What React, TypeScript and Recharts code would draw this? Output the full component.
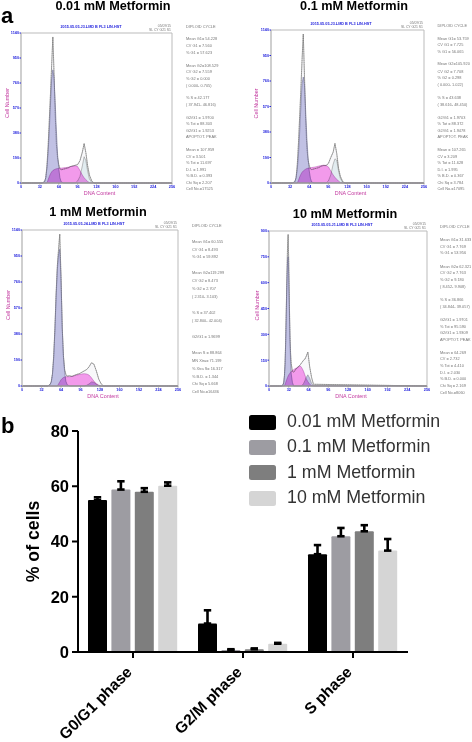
import React from "react";
import {
  Area, Bar, BarChart, ComposedChart, ErrorBar, Legend, Line, ReferenceLine, XAxis, YAxis,
} from "recharts";

const FONT = "'Liberation Sans', Arial, sans-serif";

// ---------- Panel a: DNA histograms ----------
const xTicks = [0, 32, 64, 96, 128, 160, 192, 224, 256];
const yTicksHigh = [0, 190, 380, 570, 760, 950, 1140];
const yTicksLow = [0, 150, 300, 450, 600, 750, 900];

const channels1 = [0,36,40,42,44,46,48,50,52,54,56,58,60,62,64,66,68,72,76,80,84,88,92,96,100,104,107,110,113,116,120,124,256];
const total1 = [0,0,10,40,130,280,480,680,900,1110,840,520,290,190,140,110,100,105,110,115,125,130,135,140,170,235,300,230,130,60,15,0,0];
const g1Fit1 = [0,0,10,40,110,230,400,600,790,860,800,610,400,220,110,40,10,0,0,0,0,0,0,0,0,0,0,0,0,0,0,0,0];
const sFit1 = [0,0,0,0,0,25,50,70,85,95,100,105,108,110,111,112,113,115,117,120,125,128,131,125,95,60,40,25,12,3,0,0,0];
const g2Fit1 = [0,0,0,0,0,0,0,0,0,0,0,0,0,0,0,0,0,0,0,0,0,0,0,15,50,130,200,170,90,30,5,0,0];

const channels2 = channels1;
const total2 = [0,0,10,40,140,300,500,700,920,1110,800,470,260,170,130,105,100,105,110,115,125,130,130,145,190,230,295,220,110,50,10,0,0];
const g1Fit2 = [0,0,10,40,100,210,380,570,740,790,730,540,340,190,90,35,8,0,0,0,0,0,0,0,0,0,0,0,0,0,0,0,0];
const sFit2 = [0,0,0,0,0,20,45,65,80,90,97,103,108,110,111,113,115,118,122,126,130,133,131,120,90,60,42,28,14,4,0,0,0];
const g2Fit2 = [0,0,0,0,0,0,0,0,0,0,0,0,0,0,0,0,0,0,0,0,0,0,0,15,60,140,180,170,90,35,5,0,0];

const channels3 = [0,42,46,48,50,52,54,56,58,60,62,64,66,68,70,72,74,78,82,86,90,94,98,102,106,110,114,118,122,126,130,134,256];
const total3 = [0,0,10,30,90,220,420,680,880,1000,1110,800,430,220,120,85,72,75,70,78,85,90,100,110,120,140,170,160,110,50,15,0,0];
const g1Fit3 = [0,0,10,30,85,200,400,650,850,960,1000,780,420,210,100,35,10,0,0,0,0,0,0,0,0,0,0,0,0,0,0,0,0];
const sFit3 = [0,0,0,0,0,0,0,0,0,15,30,45,55,62,66,68,68,68,70,75,80,84,88,90,88,80,60,35,18,6,0,0,0];
const g2Fit3 = [0,0,0,0,0,0,0,0,0,0,0,0,0,0,0,0,0,0,0,0,0,0,0,0,5,15,30,28,12,3,0,0,0];

const channels4 = [0,20,23,24,25,26,27,28,29,30,31,32,33,34,35,36,38,40,42,44,46,48,50,52,54,56,58,60,63,66,69,72,256];
const total4 = [0,0,8,25,60,130,260,440,640,800,880,720,480,290,190,130,85,80,90,100,105,115,120,130,140,150,155,170,197,110,50,10,0];
const g1Fit4 = [0,0,8,22,55,120,240,420,600,720,750,640,440,260,140,70,20,0,0,0,0,0,0,0,0,0,0,0,0,0,0,0,0];
const sFit4 = [0,0,0,0,0,10,20,30,40,50,58,65,70,75,80,85,90,95,100,104,108,112,116,112,100,85,65,45,25,10,2,0,0];
const g2Fit4 = [0,0,0,0,0,0,0,0,0,0,0,0,0,0,0,0,0,0,0,0,0,0,0,0,5,15,30,48,65,45,15,2,0];

const titles = ["0.01 mM Metformin", "0.1 mM Metformin", "1 mM Metformin", "10 mM Metformin"];
const files = ["2015.05.05.J3.LMD B FL3 LIN.HST", "2015.05.05.J3.LMD B FL3 LIN.HST", "2015.05.05.J4.LMD B FL3 LIN.HST", "2015.05.05.J1.LMD B FL3 LIN.HST"];

const stats1 = ["DIPLOID CYCLE","Mean G1= 54.228","CV G1 = 7.560","% G1 = 57.623","Mean G2=108.529","CV G2 = 7.559","% G2 = 0.000","( 0.000- 0.705)","% S = 42.177","( 37.941- 46.816)","G2/G1 = 1.9700","% Tot = 88.303","G2/G1 = 1.9253","APOPTOT. PEAK","Mean = 107.959","CV = 3.501","% Tot = 11.697","D.I. = 1.991","% B.D. = 0.393","Chi Sq = 2.207","Cell No.=17525"];
const stats2 = ["DIPLOID CYCLE","Mean G1= 53.759","CV G1 = 7.725","% G1 = 56.065","Mean G2=105.920","CV G2 = 7.708","% G2 = 0.298","( 0.000- 1.022)","% S = 43.638","( 38.616- 48.450)","G2/G1 = 1.9703","% Tot = 88.372","G2/G1 = 1.9478","APOPTOT. PEAK","Mean = 107.265","CV = 3.209","% Tot = 11.628","D.I. = 1.995","% B.D. = 0.367","Chi Sq = 3.784","Cell No.=17095"];
const stats3 = ["DIPLOID CYCLE","Mean G1= 60.555","CV G1 = 8.493","% G1 = 59.892","Mean G2=119.299","CV G2 = 8.473","% G2 = 2.707","( 2.310- 3.103)","% S = 37.402","( 32.800- 42.004)","G2/G1 = 1.9699","Mean S = 88.864","MN Xtra= 71.199","% Xtra S= 16.317","% B.D. = 1.344","Chi Sq = 5.668","Cell No.=16436"];
const stats4 = ["DIPLOID CYCLE","Mean G1= 31.633","CV G1 = 7.769","% G1 = 53.956","Mean G2= 62.321","CV G2 = 7.763","% G2 = 9.180","( 8.452- 9.908)","% S = 36.866","( 34.844- 39.057)","G2/G1 = 1.9701","% Tot = 95.590","G2/G1 = 1.9309","APOPTOT. PEAK","Mean = 64.269","CV = 2.732","% Tot = 4.410","D.I. = 2.030","% B.D. = 0.000","Chi Sq = 2.169","Cell No.=8060"];

const statRows1 = [27,39.3,46,53,66,72,79,85.7,98,105,118,124,131,137,150,157,163,170,176,183,189];
const statRows2 = [25.7,38.7,45,51.7,64.3,72,78,85,98,104.7,117.7,124,130.7,137,150,156.7,163,170,176,183,189];
const statRows3 = [226,241.7,249.7,257.3,273.3,281.3,289,297.3,313.3,321,337,352.7,360.7,368.7,376.7,384.3,392.3];
const statRows4 = [227.3,240,246.7,253.3,266.7,273.3,280,286.7,300,306.7,320,326.7,333.3,340,353,359.3,366,372.7,379.3,385.5,392.7];

type PanelCfg = {
  channels: number[]; total: number[]; g1: number[]; s: number[]; g2: number[];
  yTicks: number[]; left: number; top: number; w: number; h: number;
  titleX: number; titleY: number; statX: number; stats: string[]; rows: number[]; g2Fill: string; headX: number; labelOffset: number; labelDy: number;
};

const panels: PanelCfg[] = [
  { channels: channels1, total: total1, g1: g1Fit1, s: sFit1, g2: g2Fit1, yTicks: yTicksHigh, left: 21, top: 33, w: 151, h: 150, titleX: 113, titleY: 6, statX: 186, stats: stats1, rows: statRows1, g2Fill: "#d3e5ea", headX: 91, labelOffset: 6, labelDy: -5 },
  { channels: channels2, total: total2, g1: g1Fit2, s: sFit2, g2: g2Fit2, yTicks: yTicksHigh, left: 271, top: 30, w: 153, h: 153, titleX: 354, titleY: 6, statX: 437.5, stats: stats2, rows: statRows2, g2Fill: "#d3e5ea", headX: 341, labelOffset: 5, labelDy: -3 },
  { channels: channels3, total: total3, g1: g1Fit3, s: sFit3, g2: g2Fit3, yTicks: yTicksHigh, left: 22, top: 230, w: 156, h: 156, titleX: 98, titleY: 212, statX: 192, stats: stats3, rows: statRows3, g2Fill: "#9c9cd6", headX: 94, labelOffset: 6, labelDy: -3 },
  { channels: channels4, total: total4, g1: g1Fit4, s: sFit4, g2: g2Fit4, yTicks: yTicksLow, left: 269, top: 231, w: 158, h: 155, titleX: 345, titleY: 214, statX: 440, stats: stats4, rows: statRows4, g2Fill: "#9c9cd6", headX: 342, labelOffset: 8, labelDy: -3 },
];

const abs = (x: number, y: number, extra: React.CSSProperties = {}): React.CSSProperties => ({
  position: "absolute", left: x, top: y, lineHeight: 1, whiteSpace: "pre", fontFamily: FONT, ...extra,
});

function Panel({ cfg, index }: { cfg: PanelCfg; index: number }) {
  const data = cfg.channels.map((c, i) => ({ c, total: cfg.total[i], g1: cfg.g1[i], s: cfg.s[i], g2: cfg.g2[i] }));
  const yMax = cfg.yTicks[cfg.yTicks.length - 1];
  const tick = { fontSize: 3.8, fill: "#2222dd", fontWeight: 700, fontFamily: FONT };
  return (
    <>
      <div style={{ position: "absolute", left: cfg.left - 20, top: cfg.top - 4 }}>
        <ComposedChart width={cfg.w + 26} height={cfg.h + 18} data={data} margin={{ top: 4, right: 6, bottom: 0, left: 0 }}>
          <XAxis dataKey="c" type="number" domain={[0, 256]} ticks={xTicks} interval={0} height={14}
            tick={tick} tickSize={1.5} tickMargin={0.5} stroke="#999" axisLine={{ stroke: "#999", strokeWidth: 1.4 }}
            label={{ value: "DNA Content", position: "insideBottom", offset: 2.5, dx: 3, fontSize: 5.4, fill: "#c2389f", fontFamily: FONT }} />
          <YAxis type="number" domain={[0, yMax]} ticks={cfg.yTicks} interval={0} width={20}
            tick={tick} tickSize={1.5} tickMargin={0.5} stroke="#2222dd" axisLine={{ stroke: "#bbb", strokeWidth: 1.4 }}
            label={{ value: "Cell Number", angle: -90, position: "insideLeft", offset: cfg.labelOffset, dy: cfg.labelDy, textAnchor: "middle", fontSize: 5.4, fill: "#c2389f", fontFamily: FONT }} />
          <ReferenceLine y={yMax} stroke="#bbb" strokeWidth={1} />
          <ReferenceLine x={256} stroke="#bbb" strokeWidth={1} />
          <Area dataKey="total" type="linear" fill="#f4f4f6" stroke="#8a8a8a" strokeWidth={0.7} isAnimationActive={false} dot={false} />
          <Area dataKey="g2" type="linear" fill={cfg.g2Fill} stroke="#666" strokeWidth={0.4} isAnimationActive={false} dot={false} />
          <Area dataKey="g1" type="linear" fill="#9c9cd6" stroke="#5f5f8a" strokeWidth={0.5} isAnimationActive={false} dot={false} />
          <Area className="s-area" dataKey="s" type="linear" fill="#f55ee6" stroke="#a040a0" strokeWidth={0.4} isAnimationActive={false} dot={false} />
          <Line dataKey="total" type="linear" stroke="#666" strokeWidth={0.4} strokeDasharray="1.2 1" dot={false} isAnimationActive={false} legendType="none" />
        </ComposedChart>
      </div>
      <div style={abs(cfg.titleX, cfg.titleY, { transform: "translate(-50%,-50%)", fontSize: 12.7, fontWeight: 700, color: "#000" })}>{titles[index]}</div>
      <div style={abs(cfg.headX, cfg.top - 5.5, { transform: "translate(-50%,-50%)", fontSize: 3.8, fontWeight: 700, color: "#2222dd" })}>{files[index]}</div>
      <div style={abs(cfg.left + cfg.w - 1, cfg.top - 6, { transform: "translate(-100%,-50%)", fontSize: 3.4, color: "#777" })}>05/09/15</div>
      <div style={abs(cfg.left + cfg.w - 1, cfg.top - 2, { transform: "translate(-100%,-50%)", fontSize: 3.4, color: "#777" })}>SL CY G21 S1</div>
      {cfg.stats.map((t, i) => (
        <div key={i} style={abs(cfg.statX, cfg.rows[i], { transform: "translateY(-50%)", fontSize: 3.9, color: "#777" })}>{t}</div>
      ))}
    </>
  );
}

// ---------- Panel b: bar chart ----------
const phases = ["G0/G1 phase", "G2/M phase", "S phase"];
const doses = ["0.01 mM Metformin", "0.1 mM Metformin", "1 mM Metformin", "10 mM Metformin"];
const doseColors = ["#000000", "#9d9ca2", "#7e7e7e", "#d5d5d5"];
const values001 = [55, 10.3, 35.4];
const values01 = [58.8, 0.7, 41.9];
const values1 = [58, 1.0, 43.7];
const values10 = [60.2, 3.0, 36.7];
const err001 = [1, 4.8, 3.3];
const err01 = [3, 0.3, 3];
const err1 = [1.3, 0.3, 2.2];
const err10 = [1.2, 0.3, 4.2];

const barData = phases.map((phase, i) => ({
  phase,
  a: values001[i], b: values01[i], c: values1[i], d: values10[i],
  ea: [0, err001[i]], eb: [0, err01[i]], ec: [0, err1[i]], ed: [0, err10[i]],
}));

const keys = ["a", "b", "c", "d"];
const errKeys = ["ea", "eb", "ec", "ed"];

function DoseLegend({ payload }: any) {
  return (
    <div style={{ width: 220 }}>
      {(payload || []).map((p: any, i: number) => (
        <div key={i} style={{ position: "relative", height: 25.4 }}>
          <div style={{ position: "absolute", left: 0, top: 5, width: 27, height: 15, borderRadius: 2.5, background: p.color }} />
          <div style={abs(38, 12.5, { transform: "translateY(-50%)", fontSize: 17.8, color: "#333" })}>{p.value}</div>
        </div>
      ))}
    </div>
  );
}

function PhaseTick({ x, y, payload }: any) {
  return (
    <text transform={`translate(${x},${y + 12}) rotate(-45)`} textAnchor="end"
      fontSize={15.6} fontWeight={700} fill="#000" fontFamily={FONT}>
      {payload.value}
    </text>
  );
}

export default function App() {
  return (
    <div style={{ position: "absolute", left: 0, top: 0, width: 472, height: 742, background: "#fff", overflow: "hidden", fontFamily: FONT }}>
      <style>{`.s-area, .s-area path { mix-blend-mode: multiply; }`}</style>
      <div style={abs(1, 5, { fontSize: 22, fontWeight: 700, color: "#000" })}>a</div>
      <div style={abs(1, 415, { fontSize: 22, fontWeight: 700, color: "#000" })}>b</div>
      {panels.map((p, i) => <Panel key={i} cfg={p} index={i} />)}
      <div style={{ position: "absolute", left: 0, top: 400 }}>
        <BarChart width={472} height={342} data={barData} barCategoryGap={10.4} barGap={4.4} barSize={19}
          margin={{ top: 31, right: 64, bottom: 10, left: 18 }}>
          <XAxis dataKey="phase" height={80} interval={0} tick={<PhaseTick />}
            tickSize={6} tickMargin={3}
            axisLine={{ stroke: "#000", strokeWidth: 2 }} tickLine={{ stroke: "#000", strokeWidth: 2 }} />
          <YAxis width={60} domain={[0, 80]} ticks={[0, 20, 40, 60, 80]} interval={0}
            tick={{ fontSize: 16.5, fontWeight: 700, fill: "#000", fontFamily: FONT }}
            tickSize={6} tickMargin={3}
            axisLine={{ stroke: "#000", strokeWidth: 2 }} tickLine={{ stroke: "#000", strokeWidth: 2 }}
            label={{ value: "% of cells", angle: -90, position: "insideLeft", offset: 15, textAnchor: "middle", fontSize: 17.7, fontWeight: 700, fill: "#000", fontFamily: FONT }} />
          {keys.map((k, i) => (
            <Bar key={k} dataKey={k} name={doses[i]} fill={doseColors[i]} isAnimationActive={false} radius={1}>
              <ErrorBar dataKey={errKeys[i]} direction="y" width={3.7} stroke="#000" strokeWidth={2.6} isAnimationActive={false} />
            </Bar>
          ))}
          <Legend layout="vertical" align="center" verticalAlign="middle" content={<DoseLegend />}
            wrapperStyle={{ left: 249, top: 9.5, width: 220 }} />
        </BarChart>
      </div>
    </div>
  );
}
